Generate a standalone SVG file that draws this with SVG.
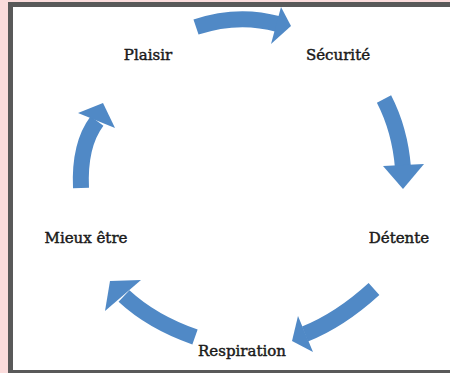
<svg xmlns="http://www.w3.org/2000/svg" width="450" height="373" viewBox="0 0 450 373">
<style>
.lbl{font-family:"DejaVu Serif","Liberation Serif",serif;font-size:15px;fill:#1a1a1a;stroke:#1a1a1a;stroke-width:0.45;text-anchor:middle}
.shaft{fill:none;stroke:#5089c6;stroke-width:16}
.head{fill:#5089c6}
</style>
<rect x="0" y="0" width="450" height="373" fill="#fbdcdc"/>
<rect x="8" y="2" width="442" height="371" fill="#595959"/>
<rect x="13" y="7" width="437" height="363" fill="#ffffff"/>
<g id="connectors">
<path class="shaft" d="M196,27 Q238,13 278,24"/>
<polygon class="head" points="281,7 291,26 271,44"/>
<path class="shaft" d="M384,99 Q400,130 403,168"/>
<polygon class="head" points="383,166 424,164 403,189"/>
<path class="shaft" d="M81,188 Q79,145 97,121"/>
<polygon class="head" points="78,113 115,128 103,103"/>
<path class="shaft" d="M195,337 Q152,322 124,296"/>
<polygon class="head" points="141,280 105,311 110,281"/>
<path class="shaft" d="M374,289 Q340,320 305,334"/>
<polygon class="head" points="298,316 313,352 292,341"/>
</g>
<g id="plaisir"><text class="lbl" x="148" y="60">Plaisir</text></g>
<g id="securite"><text class="lbl" x="338" y="60">Sécurité</text></g>
<g id="detente"><text class="lbl" x="399" y="243">Détente</text></g>
<g id="respiration"><text class="lbl" x="242" y="356">Respiration</text></g>
<g id="mieux-etre"><text class="lbl" x="86" y="243">Mieux être</text></g>
</svg>
